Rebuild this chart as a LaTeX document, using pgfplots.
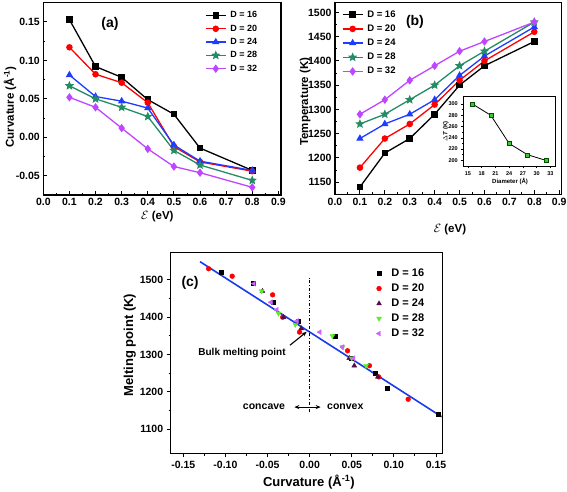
\documentclass[border=0pt]{standalone}
\usepackage{fontspec}
\setmainfont{Liberation Sans}
\usepackage{pgfplots}
\pgfplotsset{compat=1.18}
\usetikzlibrary{arrows.meta}

\pgfdeclareplotmark{fstar}{%
  \pgfpathmoveto{\pgfpointpolar{90}{\pgfplotmarksize}}%
  \pgfpathlineto{\pgfpointpolar{126}{0.45\pgfplotmarksize}}%
  \pgfpathlineto{\pgfpointpolar{162}{\pgfplotmarksize}}%
  \pgfpathlineto{\pgfpointpolar{198}{0.45\pgfplotmarksize}}%
  \pgfpathlineto{\pgfpointpolar{234}{\pgfplotmarksize}}%
  \pgfpathlineto{\pgfpointpolar{270}{0.45\pgfplotmarksize}}%
  \pgfpathlineto{\pgfpointpolar{306}{\pgfplotmarksize}}%
  \pgfpathlineto{\pgfpointpolar{342}{0.45\pgfplotmarksize}}%
  \pgfpathlineto{\pgfpointpolar{18}{\pgfplotmarksize}}%
  \pgfpathlineto{\pgfpointpolar{54}{0.45\pgfplotmarksize}}%
  \pgfpathclose
  \pgfusepathqfillstroke
}

\definecolor{cA}{RGB}{0,0,0}
\definecolor{cB}{RGB}{255,0,0}
\definecolor{cC}{RGB}{30,60,255}
\definecolor{cD}{RGB}{35,140,100}
\definecolor{cE}{RGB}{190,70,255}
\definecolor{fitblue}{RGB}{25,60,235}
\definecolor{c24}{RGB}{80,15,75}
\definecolor{c28}{RGB}{90,240,40}
\definecolor{c32}{RGB}{205,100,255}
\definecolor{insetg}{RGB}{60,200,50}

\pgfplotsset{
  orig/.style={
    scale only axis,
    axis line style={line width=1.4pt},
    every tick/.style={line width=0.9pt, black},
    major tick length=4pt, minor tick length=2.2pt,
    xtick pos=bottom, ytick pos=left,
    tick label style={font=\bfseries\fontsize{10.5}{10.5}\selectfont},
    /pgf/number format/assume math mode=true,
    label style={font=\bfseries\fontsize{11.5}{12}\selectfont},
  },
  serie/.style={line width=1.3pt, mark size=2.6pt, mark options={solid}},
  leglines/.style={
    legend image code/.code={\draw[##1, mark repeat=2, mark phase=2] plot coordinates {(0pt,0pt) (10pt,0pt) (20pt,0pt)};},
  },
}

\begin{document}
\begin{tikzpicture}
\useasboundingbox (0,0) rectangle (567pt,-491pt);

% ---------------- (a) ----------------
\begin{axis}[orig, leglines,
  at={(43.3pt,-195pt)}, anchor=south west,
  width=237.7pt, height=192.3pt,
  xmin=0, xmax=0.91, ymin=-0.075, ymax=0.175,
  xtick={0,0.1,...,0.9}, minor x tick num=1,
  ytick={-0.05,0,0.05,0.1,0.15}, minor y tick num=1,
  tick align=inside,
  xticklabel style={/pgf/number format/.cd, fixed, fixed zerofill, precision=1},
  yticklabel style={/pgf/number format/.cd, fixed, fixed zerofill, precision=2},
  xlabel={$\mathcal{E}$ (eV)},
  ylabel={Curvature (Å\textsuperscript{-1})},
  xlabel style={at={(axis description cs:0.48,-0.11)}, anchor=center, inner sep=0pt},
  ylabel style={at={(axis description cs:-0.14,0.458)}, anchor=center},
  legend style={at={(0.68,0.958)}, anchor=north west, draw=none, fill=none,
    inner sep=0pt, row sep=4.3pt, font=\bfseries\fontsize{9}{9}\selectfont,
    nodes={text height=7pt, text depth=2pt, inner sep=0pt},
    /tikz/every odd column/.append style={column sep=4pt}},
  legend cell align=left,
]
\addplot[serie, color=cA, mark=square*] coordinates {(0.1,0.153)(0.2,0.092)(0.3,0.078)(0.4,0.049)(0.5,0.030)(0.6,-0.014)(0.8,-0.043)};
\addlegendentry{D = 16}
\addplot[serie, color=cB, mark=*] coordinates {(0.1,0.117)(0.2,0.082)(0.3,0.071)(0.4,0.045)(0.5,-0.012)(0.6,-0.032)(0.8,-0.044)};
\addlegendentry{D = 20}
\addplot[serie, color=cC, mark=triangle*, mark size=3pt] coordinates {(0.1,0.081)(0.2,0.053)(0.3,0.047)(0.4,0.038)(0.5,-0.010)(0.6,-0.031)(0.8,-0.043)};
\addlegendentry{D = 24}
\addplot[serie, color=cD, mark=fstar, mark size=3.2pt] coordinates {(0.1,0.067)(0.2,0.050)(0.3,0.039)(0.4,0.027)(0.5,-0.017)(0.6,-0.036)(0.8,-0.056)};
\addlegendentry{D = 28}
\addplot[serie, color=cE, mark=diamond*, mark size=3.2pt] coordinates {(0.1,0.052)(0.2,0.039)(0.3,0.012)(0.4,-0.015)(0.5,-0.038)(0.6,-0.046)(0.8,-0.065)};
\addlegendentry{D = 32}
\node[font=\bfseries\fontsize{14}{14}\selectfont] at (axis cs:0.255,0.1473) {(a)};
\end{axis}

% ---------------- (b) ----------------
\begin{axis}[orig, leglines,
  at={(335pt,-194.3pt)}, anchor=south west,
  width=226.7pt, height=191.6pt,
  xmin=0, xmax=0.91, ymin=1125, ymax=1520,
  xtick={0,0.1,...,0.9}, minor x tick num=1,
  ytick={1150,1200,...,1500}, minor y tick num=1,
  tick align=inside,
  xticklabel style={/pgf/number format/.cd, fixed, fixed zerofill, precision=1},
  yticklabel style={/pgf/number format/.cd, fixed, 1000 sep={}},
  xlabel={$\mathcal{E}$ (eV)},
  ylabel={Temperature (K)},
  xlabel style={at={(axis description cs:0.507,-0.186)}, anchor=center},
  ylabel style={at={(axis description cs:-0.132,0.483)}, anchor=center},
  legend style={at={(0.03,0.962)}, anchor=north west, draw=none, fill=none,
    inner sep=0pt, row sep=5.2pt, font=\bfseries\fontsize{9.5}{9.5}\selectfont,
    nodes={text height=7pt, text depth=2pt, inner sep=0pt},
    /tikz/every odd column/.append style={column sep=4pt}},
  legend cell align=left,
]
\addplot[serie, color=cA, mark=square*] coordinates {(0.1,1140)(0.2,1210)(0.3,1240)(0.4,1290)(0.5,1350)(0.6,1390)(0.8,1440)};
\addlegendentry{D = 16}
\addplot[serie, color=cB, mark=*] coordinates {(0.1,1180)(0.2,1240)(0.3,1270)(0.4,1310)(0.5,1360)(0.6,1400)(0.8,1460)};
\addlegendentry{D = 20}
\addplot[serie, color=cC, mark=triangle*, mark size=3pt] coordinates {(0.1,1240)(0.2,1270)(0.3,1290)(0.4,1320)(0.5,1370)(0.6,1410)(0.8,1470)};
\addlegendentry{D = 24}
\addplot[serie, color=cD, mark=fstar, mark size=3.2pt] coordinates {(0.1,1270)(0.2,1290)(0.3,1320)(0.4,1350)(0.5,1390)(0.6,1420)(0.8,1480)};
\addlegendentry{D = 28}
\addplot[serie, color=cE, mark=diamond*, mark size=3.2pt] coordinates {(0.1,1290)(0.2,1320)(0.3,1360)(0.4,1390)(0.5,1420)(0.6,1440)(0.8,1480)};
\addlegendentry{D = 32}
\node[font=\bfseries\fontsize{14}{14}\selectfont] at (axis cs:0.321,1481) {(b)};
\end{axis}

% ---------------- inset ----------------
\begin{axis}[scale only axis,
  at={(463.3pt,-166pt)}, anchor=south west,
  width=91.7pt, height=69.3pt,
  axis background/.style={fill=white},
  axis line style={line width=0.8pt},
  every tick/.style={line width=0.5pt, black},
  major tick length=2pt, minor tick length=1pt,
  xtick pos=bottom, ytick pos=left, tick align=outside,
  xmin=14, xmax=34, ymin=190, ymax=313,
  xtick={15,18,...,33}, ytick={200,220,...,300},
  minor y tick num=1,
  tick label style={font=\bfseries\fontsize{5.5}{5.5}\selectfont},
  /pgf/number format/assume math mode=true,
  label style={font=\bfseries\fontsize{6}{6}\selectfont},
  xlabel={Diameter (Å)},
  ylabel={$\Delta$\textit{T} (K)},
  xlabel style={at={(axis description cs:0.51,-0.227)}, anchor=center},
  ylabel style={at={(axis description cs:-0.19,0.495)}, anchor=center},
]
\addplot[black, line width=0.8pt, mark=square*, mark size=2pt, mark options={fill=insetg, draw=black!70!green, line width=0.4pt}] coordinates {(16,300)(20,280)(24,230)(28,210)(32,200)};
\end{axis}

% ---------------- (c) ----------------
\begin{axis}[orig,
  at={(170.7pt,-453.3pt)}, anchor=south west,
  width=272pt, height=200.6pt,
  xmin=-0.165, xmax=0.158, ymin=1035, ymax=1573,
  xtick={-0.15,-0.1,...,0.16}, minor x tick num=1,
  ytick={1100,1200,...,1500}, minor y tick num=1,
  tick align=outside,
  tick label style={font=\bfseries\fontsize{10.5}{10.5}\selectfont},
  xticklabel style={/pgf/number format/.cd, fixed, fixed zerofill, precision=2},
  yticklabel style={/pgf/number format/.cd, fixed, 1000 sep={}},
  label style={font=\bfseries\fontsize{13}{13}\selectfont},
  xlabel={Curvature (Å\textsuperscript{-1})},
  ylabel={Melting point (K)},
  xlabel style={at={(axis description cs:0.508,-0.142)}, anchor=center},
  ylabel style={at={(axis description cs:-0.15,0.54)}, anchor=center},
  legend style={at={(0.755,0.922)}, anchor=north west, draw=none, fill=none,
    inner sep=0pt, row sep=5pt, font=\bfseries\fontsize{11}{11}\selectfont,
    nodes={text height=8pt, text depth=2pt, inner sep=0pt},
    /tikz/every odd column/.append style={column sep=10pt}},
  legend cell align=left,
]
\addplot[fitblue, line width=1.6pt, forget plot] coordinates {(-0.1302,1549)(0.1568,1133)};
\addplot[black, line width=0.6pt, dash dot, forget plot] coordinates {(0,1145)(0,1506)};
\addplot[only marks, mark=square*, mark size=2pt, color=black] coordinates {(-0.105,1520)(-0.067,1490)(-0.043,1440)(-0.014,1390)(0.030,1350)(0.049,1290)(0.078,1250)(0.092,1210)(0.153,1140)};
\addlegendentry{D = 16}
\addplot[only marks, mark=*, mark size=2.4pt, color=red] coordinates {(-0.120,1530)(-0.092,1510)(-0.044,1460)(-0.032,1400)(-0.012,1360)(0.045,1310)(0.071,1270)(0.082,1240)(0.117,1180)};
\addlegendentry{D = 20}
\addplot[only marks, mark=triangle*, mark size=2.8pt, color=c24] coordinates {(-0.056,1470)(-0.031,1400)(-0.010,1370)(0.047,1290)(0.053,1270)(0.081,1240)};
\addlegendentry{D = 24}
\addplot[only marks, mark=triangle*, mark size=2.8pt, mark options={rotate=180}, color=c28] coordinates {(-0.057,1470)(-0.037,1410)(-0.017,1380)(0.027,1350)(0.039,1320)(0.050,1290)(0.067,1270)};
\addlegendentry{D = 28}
\addplot[only marks, mark=triangle*, mark size=2.8pt, mark options={rotate=90}, color=c32] coordinates {(-0.066,1490)(-0.046,1440)(-0.039,1420)(-0.015,1390)(0.012,1360)(0.039,1320)(0.052,1290)};
\addlegendentry{D = 32}
\node[font=\bfseries\fontsize{14}{14}\selectfont] at (axis cs:-0.142,1491) {(c)};
\node[font=\bfseries\fontsize{10}{10}\selectfont] at (axis cs:-0.0803,1305) {Bulk melting point};
\draw[-{Stealth[length=5pt,width=4pt]}, line width=1.1pt] (axis cs:-0.0233,1325) -- (axis cs:-0.0035,1361);
\node[font=\bfseries\fontsize{10.5}{10.5}\selectfont] at (axis cs:-0.0542,1159) {concave};
\node[font=\bfseries\fontsize{10.5}{10.5}\selectfont] at (axis cs:0.0423,1159) {convex};
\draw[{Stealth[length=5pt,width=4pt]}-{Stealth[length=5pt,width=4pt]}, line width=1.1pt] (axis cs:-0.0182,1159) -- (axis cs:0.0131,1159);
\end{axis}
\end{tikzpicture}
\end{document}
